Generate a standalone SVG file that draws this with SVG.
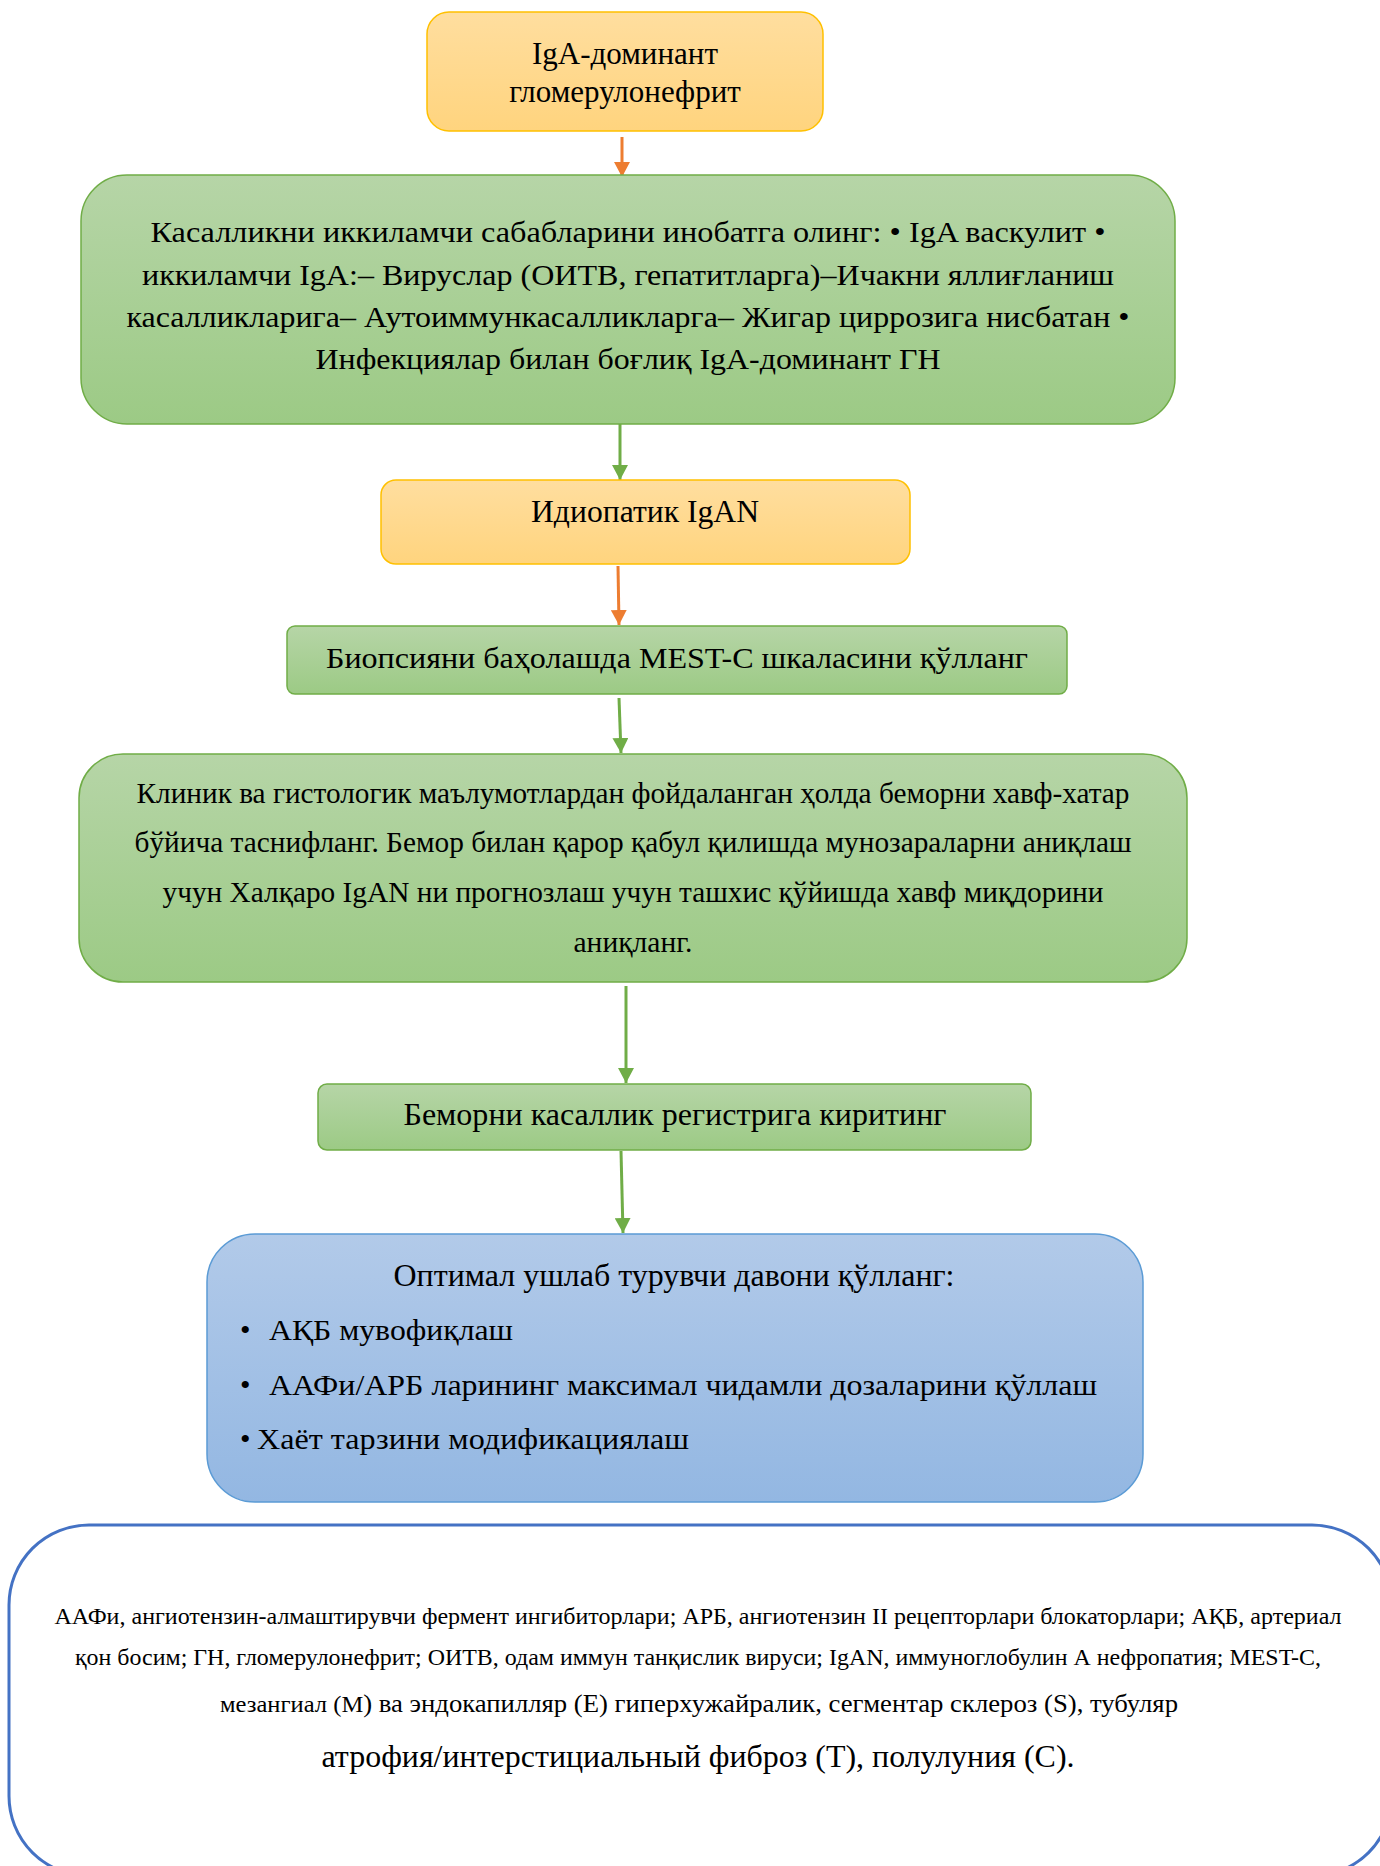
<svg xmlns="http://www.w3.org/2000/svg" width="1380" height="1866" viewBox="0 0 1380 1866">
<defs>
<linearGradient id="gOrange" x1="0" y1="0" x2="0" y2="1"><stop offset="0" stop-color="#FFDE9F"/><stop offset="1" stop-color="#FFD47E"/></linearGradient>
<linearGradient id="gGreen" x1="0" y1="0" x2="0" y2="1"><stop offset="0" stop-color="#B6D5A7"/><stop offset="1" stop-color="#9CCA85"/></linearGradient>
<linearGradient id="gBlue" x1="0" y1="0" x2="0" y2="1"><stop offset="0" stop-color="#B2CAE9"/><stop offset="1" stop-color="#93B7E2"/></linearGradient>
<marker id="mOrange" markerUnits="userSpaceOnUse" markerWidth="16" markerHeight="16" refX="15" refY="8" orient="auto"><path d="M0,0 L15,8 L0,16 z" fill="#ED7D31"/></marker>
<marker id="mGreen" markerUnits="userSpaceOnUse" markerWidth="16" markerHeight="16" refX="15" refY="8" orient="auto"><path d="M0,0 L15,8 L0,16 z" fill="#70AD47"/></marker>
<style>
.t{font-family:"Liberation Serif","Times New Roman",serif;fill:#000}
.orange{fill:url(#gOrange);stroke:#FFC000;stroke-width:1.5}
.green{fill:url(#gGreen);stroke:#70AD47;stroke-width:1.5}
.blue{fill:url(#gBlue);stroke:#5B9BD5;stroke-width:1.5}
.note{fill:#FFFFFF;stroke:#4472C4;stroke-width:3}
.ao{stroke:#ED7D31;stroke-width:3;fill:none;marker-end:url(#mOrange)}
.ag{stroke:#70AD47;stroke-width:3;fill:none;marker-end:url(#mGreen)}
</style>
</defs>
<rect width="1380" height="1866" fill="#FFFFFF"/>

<g id="connectors">
<line class="ao" x1="622" y1="137" x2="622" y2="177"/>
<line class="ag" x1="620" y1="424" x2="620" y2="480"/>
<line class="ao" x1="618" y1="566" x2="619" y2="625"/>
<line class="ag" x1="619" y1="698" x2="621" y2="753"/>
<line class="ag" x1="626" y1="986" x2="626" y2="1083"/>
<line class="ag" x1="621" y1="1151" x2="623" y2="1233"/>
</g>

<g id="n1">
<rect class="orange" x="427" y="12" width="396" height="119" rx="22"/>
<text class="t" x="625" y="64" font-size="31" text-anchor="middle">IgA-доминант</text>
<text class="t" x="625" y="102" font-size="31" text-anchor="middle">гломерулонефрит</text>
</g>

<g id="n2">
<rect class="green" x="81" y="175" width="1094" height="249" rx="46"/>
<text class="t" x="628" y="242" font-size="30" text-anchor="middle" textLength="955" lengthAdjust="spacingAndGlyphs">Касалликни иккиламчи сабабларини инобатга олинг: •  IgA васкулит •</text>
<text class="t" x="628" y="285" font-size="30" text-anchor="middle" textLength="972" lengthAdjust="spacingAndGlyphs">иккиламчи IgA:– Вируслар (ОИТВ, гепатитларга)–Ичакни яллиғланиш</text>
<text class="t" x="628" y="327" font-size="30" text-anchor="middle" textLength="1003" lengthAdjust="spacingAndGlyphs">касалликларига– Аутоиммункасалликларга– Жигар циррозига нисбатан •</text>
<text class="t" x="628" y="369" font-size="30" text-anchor="middle" textLength="625" lengthAdjust="spacingAndGlyphs">Инфекциялар билан боғлиқ IgA-доминант ГН</text>
</g>

<g id="n3">
<rect class="orange" x="381" y="480" width="529" height="84" rx="15"/>
<text class="t" x="645" y="522" font-size="31" text-anchor="middle" textLength="228" lengthAdjust="spacingAndGlyphs">Идиопатик IgAN</text>
</g>

<g id="n4">
<rect class="green" x="287" y="626" width="780" height="68" rx="8"/>
<text class="t" x="677" y="668" font-size="30" text-anchor="middle" textLength="702" lengthAdjust="spacingAndGlyphs">Биопсияни баҳолашда MEST-C шкаласини қўлланг</text>
</g>

<g id="n5">
<rect class="green" x="79" y="754" width="1108" height="228" rx="44"/>
<text class="t" x="633" y="803" font-size="29" text-anchor="middle" textLength="993" lengthAdjust="spacingAndGlyphs">Клиник ва гистологик маълумотлардан фойдаланган ҳолда беморни хавф-хатар</text>
<text class="t" x="633" y="852" font-size="29" text-anchor="middle" textLength="997" lengthAdjust="spacingAndGlyphs">бўйича таснифланг. Бемор билан қарор қабул қилишда мунозараларни аниқлаш</text>
<text class="t" x="633" y="902" font-size="29" text-anchor="middle" textLength="941" lengthAdjust="spacingAndGlyphs">учун Халқаро IgAN ни прогнозлаш учун ташхис қўйишда хавф миқдорини</text>
<text class="t" x="633" y="952" font-size="29" text-anchor="middle" textLength="119" lengthAdjust="spacingAndGlyphs">аниқланг.</text>
</g>

<g id="n6">
<rect class="green" x="318" y="1084" width="713" height="66" rx="9"/>
<text class="t" x="675" y="1125" font-size="31" text-anchor="middle" textLength="543" lengthAdjust="spacingAndGlyphs">Беморни касаллик регистрига киритинг</text>
</g>

<g id="n7">
<rect class="blue" x="207" y="1234" width="936" height="268" rx="48"/>
<text class="t" x="674" y="1286" font-size="31" text-anchor="middle" textLength="561" lengthAdjust="spacingAndGlyphs">Оптимал ушлаб турувчи давони қўлланг:</text>
<text class="t" x="240" y="1340" font-size="30">•</text>
<text class="t" x="269" y="1340" font-size="30" textLength="244" lengthAdjust="spacingAndGlyphs">АҚБ мувофиқлаш</text>
<text class="t" x="240" y="1395" font-size="30">•</text>
<text class="t" x="269" y="1395" font-size="30" textLength="828" lengthAdjust="spacingAndGlyphs">ААФи/АРБ ларининг максимал чидамли дозаларини қўллаш</text>
<text class="t" x="240" y="1449" font-size="30">•</text>
<text class="t" x="257" y="1449" font-size="30" textLength="432" lengthAdjust="spacingAndGlyphs">Хаёт тарзини модификациялаш</text>
</g>

<g id="n8">
<rect class="note" x="9" y="1525" width="1383" height="351" rx="80"/>
<text class="t" x="698" y="1624" font-size="23" text-anchor="middle" textLength="1287" lengthAdjust="spacingAndGlyphs">ААФи, ангиотензин-алмаштирувчи фермент ингибиторлари; АРБ, ангиотензин II рецепторлари блокаторлари; АҚБ, артериал</text>
<text class="t" x="698" y="1665" font-size="23" text-anchor="middle" textLength="1246" lengthAdjust="spacingAndGlyphs">қон босим; ГН, гломерулонефрит; ОИТВ, одам иммун танқислик вируси; IgAN, иммуноглобулин А нефропатия; MEST-C,</text>
<text class="t" x="699" y="1712" font-size="25" text-anchor="middle" textLength="958" lengthAdjust="spacingAndGlyphs"><tspan font-size="23">мезангиал (M</tspan>) ва эндокапилляр (E) гиперхужайралик, сегментар склероз (S), тубуляр</text>
<text class="t" x="698" y="1767" font-size="31" text-anchor="middle" textLength="753" lengthAdjust="spacingAndGlyphs">атрофия/интерстициальный фиброз (T), полулуния (C).</text>
</g>
</svg>
